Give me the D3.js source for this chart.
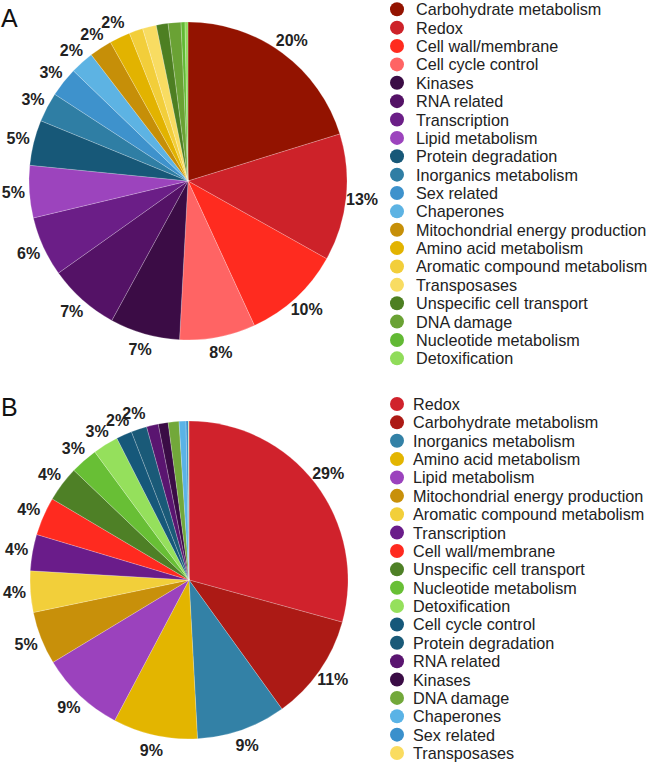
<!DOCTYPE html>
<html><head><meta charset="utf-8">
<script src="https://cdn.jsdelivr.net/npm/d3@7"></script>
<style>body{margin:0;background:#fff}svg{display:block}</style>
</head><body>
<svg id="chart" width="650" height="764"></svg>
<script>
// Panel A
const categoriesA = ["Carbohydrate metabolism","Redox","Cell wall/membrane","Cell cycle control","Kinases","RNA related","Transcription","Lipid metabolism","Protein degradation","Inorganics metabolism","Sex related","Chaperones","Mitochondrial energy production","Amino acid metabolism","Aromatic compound metabolism","Transposases","Unspecific cell transport","DNA damage","Nucleotide metabolism","Detoxification"];
const valuesA = [20.2,12.9,10,7.7,7.1,7.2,6.1,5.3,4.6,3.0,3.0,2.4,2.3,2.1,1.4,1.4,1.2,1.3,0.4,0.3];
const colorsA = ["#931300","#cd2229","#ff2b1f","#ff6464","#3b0c45","#541266","#6b1e87","#9c44bd","#175878","#2f7ea4","#3e92cc","#5db3e3","#c68f08","#e2b300","#f2ce3a","#f8dc62","#4d7f22","#6aa234","#62b934","#90dc5a"];
// Panel B
const categoriesB = ["Redox","Carbohydrate metabolism","Inorganics metabolism","Amino acid metabolism","Lipid metabolism","Mitochondrial energy production","Aromatic compound metabolism","Transcription","Cell wall/membrane","Unspecific cell transport","Nucleotide metabolism","Detoxification","Cell cycle control","Protein degradation","RNA related","Kinases","DNA damage","Chaperones","Sex related","Transposases"];
const valuesB = [29.3,10.8,9.1,8.6,8.6,5.4,4.2,3.7,3.9,3.6,2.8,2.6,1.6,1.6,1.2,1.0,1.1,0.7,0.25,0.05];
const colorsB = ["#d0222c","#ac1a15","#3381a6","#e3b500","#9b42bd","#c8900a","#f2cf3a","#6a1c8a","#ff2a1f","#4e8026","#68bf35","#95e05c","#16587a","#1a5a78","#5a1570","#3a0c45","#72a83a","#5ab3e6","#3a90cc","#fadc60"];

const svg = d3.select("#chart");
const font = "Arial, 'Liberation Sans', sans-serif";

function panel(letter, letterY, cx, cy, r, cats, vals, cols, legX, legTextX, legY0) {
  const g = svg.append("g");
  g.append("text").attr("x", 1).attr("y", letterY).text(letter)
    .attr("font-family", font).attr("font-size", 25).attr("fill", "#111");
  const pie = d3.pie().sort(null).value(d => d.v);
  const data = pie(cats.map((c, i) => ({c, v: vals[i], col: cols[i]})));
  const arc = d3.arc().innerRadius(0).outerRadius(r);
  const lab = d3.arc().innerRadius(175).outerRadius(175);
  const pg = g.append("g").attr("transform", `translate(${cx},${cy})`);
  pg.selectAll("path").data(data).join("path")
    .attr("d", arc).attr("fill", d => d.data.col)
    .attr("stroke", "rgba(255,255,255,0.35)").attr("stroke-width", 0.6);
  pg.selectAll("text").data(data.filter(d => Math.round(d.data.v) >= 2)).join("text")
    .attr("transform", d => `translate(${lab.centroid(d)})`)
    .attr("text-anchor", "middle").attr("dominant-baseline", "central")
    .attr("font-family", font).attr("font-size", 16).attr("font-weight", "bold").attr("fill", "#222")
    .text(d => Math.round(d.data.v) + "%");
  const step = 18.37;
  const lg = g.append("g");
  const items = lg.selectAll("g").data(cats.map((c, i) => ({c, col: cols[i]}))).join("g")
    .attr("transform", (d, i) => `translate(0,${legY0 + i * step})`);
  items.append("circle").attr("cx", legX).attr("cy", 0).attr("r", 7).attr("fill", d => d.col);
  items.append("text").attr("x", legTextX).attr("y", 0).attr("dominant-baseline", "central")
    .attr("font-family", font).attr("font-size", 16.2).attr("fill", "#222").text(d => d.c);
}

panel("A", 27, 188, 181, 159, categoriesA, valuesA, colorsA, 397, 416, 9.3);
panel("B", 416, 189, 580, 159, categoriesB, valuesB, colorsB, 397, 413, 404);
</script>
</body></html>
